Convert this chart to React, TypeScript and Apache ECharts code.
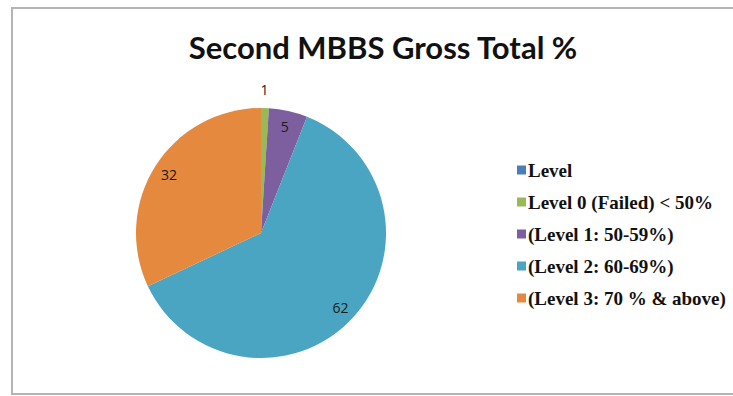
import React, { useEffect, useRef } from "react";
import * as echarts from "echarts";

const titleText = "Second MBBS Gross Total %";
const categories = [
  "Level",
  "Level 0 (Failed) < 50%",
  "(Level 1: 50-59%)",
  "(Level 2: 60-69%)",
  "(Level 3: 70 % & above)",
];
const values = [0, 1, 5, 62, 32];
const colors = ["#4A7EBB", "#98B954", "#7D5FA0", "#4AA5C2", "#E4893E"];

export default function App() {
  const ref = useRef<HTMLDivElement>(null);
  useEffect(() => {
    if (!ref.current) return;
    const chart = echarts.init(ref.current, undefined, { renderer: "svg" });
    const pieData = categories.map((name, i) => ({
      name,
      value: values[i],
      itemStyle: { color: colors[i] },
    }));
    const labelData = categories.map((name, i) => ({
      name,
      value: values[i],
      label: {
        show: values[i] > 0,
        color: "#1a1a1a",
        textBorderWidth: 0,
        offset: values[i] === 1 ? [0, -35] : [0, 0],
      },
    }));
    chart.setOption({
      animation: false,
      backgroundColor: "#ffffff",
      title: {
        text: titleText,
        left: 378,
        top: 26,
        textAlign: "center",
        textStyle: {
          fontFamily: "Lato",
          fontWeight: "bold",
          fontSize: 31,
          color: "#111111",
        },
      },
      legend: {
        orient: "vertical",
        left: 512,
        top: 154,
        itemWidth: 9,
        itemHeight: 9,
        itemGap: 10,
        icon: "rect",
        selectedMode: false,
        data: categories,
        textStyle: {
          fontFamily: "Liberation Serif",
          fontWeight: "bold",
          fontSize: 19,
          lineHeight: 22,
          color: "#111111",
          padding: [0, 0, 0, -3],
        },
      },
      graphic: [
        {
          type: "rect",
          shape: { x: 12, y: 8, width: 740, height: 386 },
          style: { fill: "none", stroke: "#b4b4b4", lineWidth: 2 },
          silent: true,
        },
      ],
      series: [
        {
          type: "pie",
          center: [261, 233],
          radius: [0, 125],
          startAngle: 90,
          clockwise: true,
          label: { show: false },
          labelLine: { show: false },
          emphasis: { disabled: true },
          itemStyle: { borderWidth: 0 },
          data: pieData,
        },
        {
          type: "pie",
          center: [261, 233],
          radius: [0, 212],
          startAngle: 90,
          clockwise: true,
          silent: true,
          legendHoverLink: false,
          emphasis: { disabled: true },
          itemStyle: { color: "rgba(0,0,0,0)", borderWidth: 0 },
          labelLine: { show: false },
          label: {
            show: true,
            position: "inside",
            formatter: "{c}",
            fontFamily: "Open Sans",
            fontSize: 14,
            color: "#1a1a1a",
          },
          data: labelData,
        },
      ],
    });
    return () => chart.dispose();
  }, []);
  return (
    <div
      ref={ref}
      style={{ position: "absolute", left: 0, top: 0, width: 733, height: 396 }}
    />
  );
}
